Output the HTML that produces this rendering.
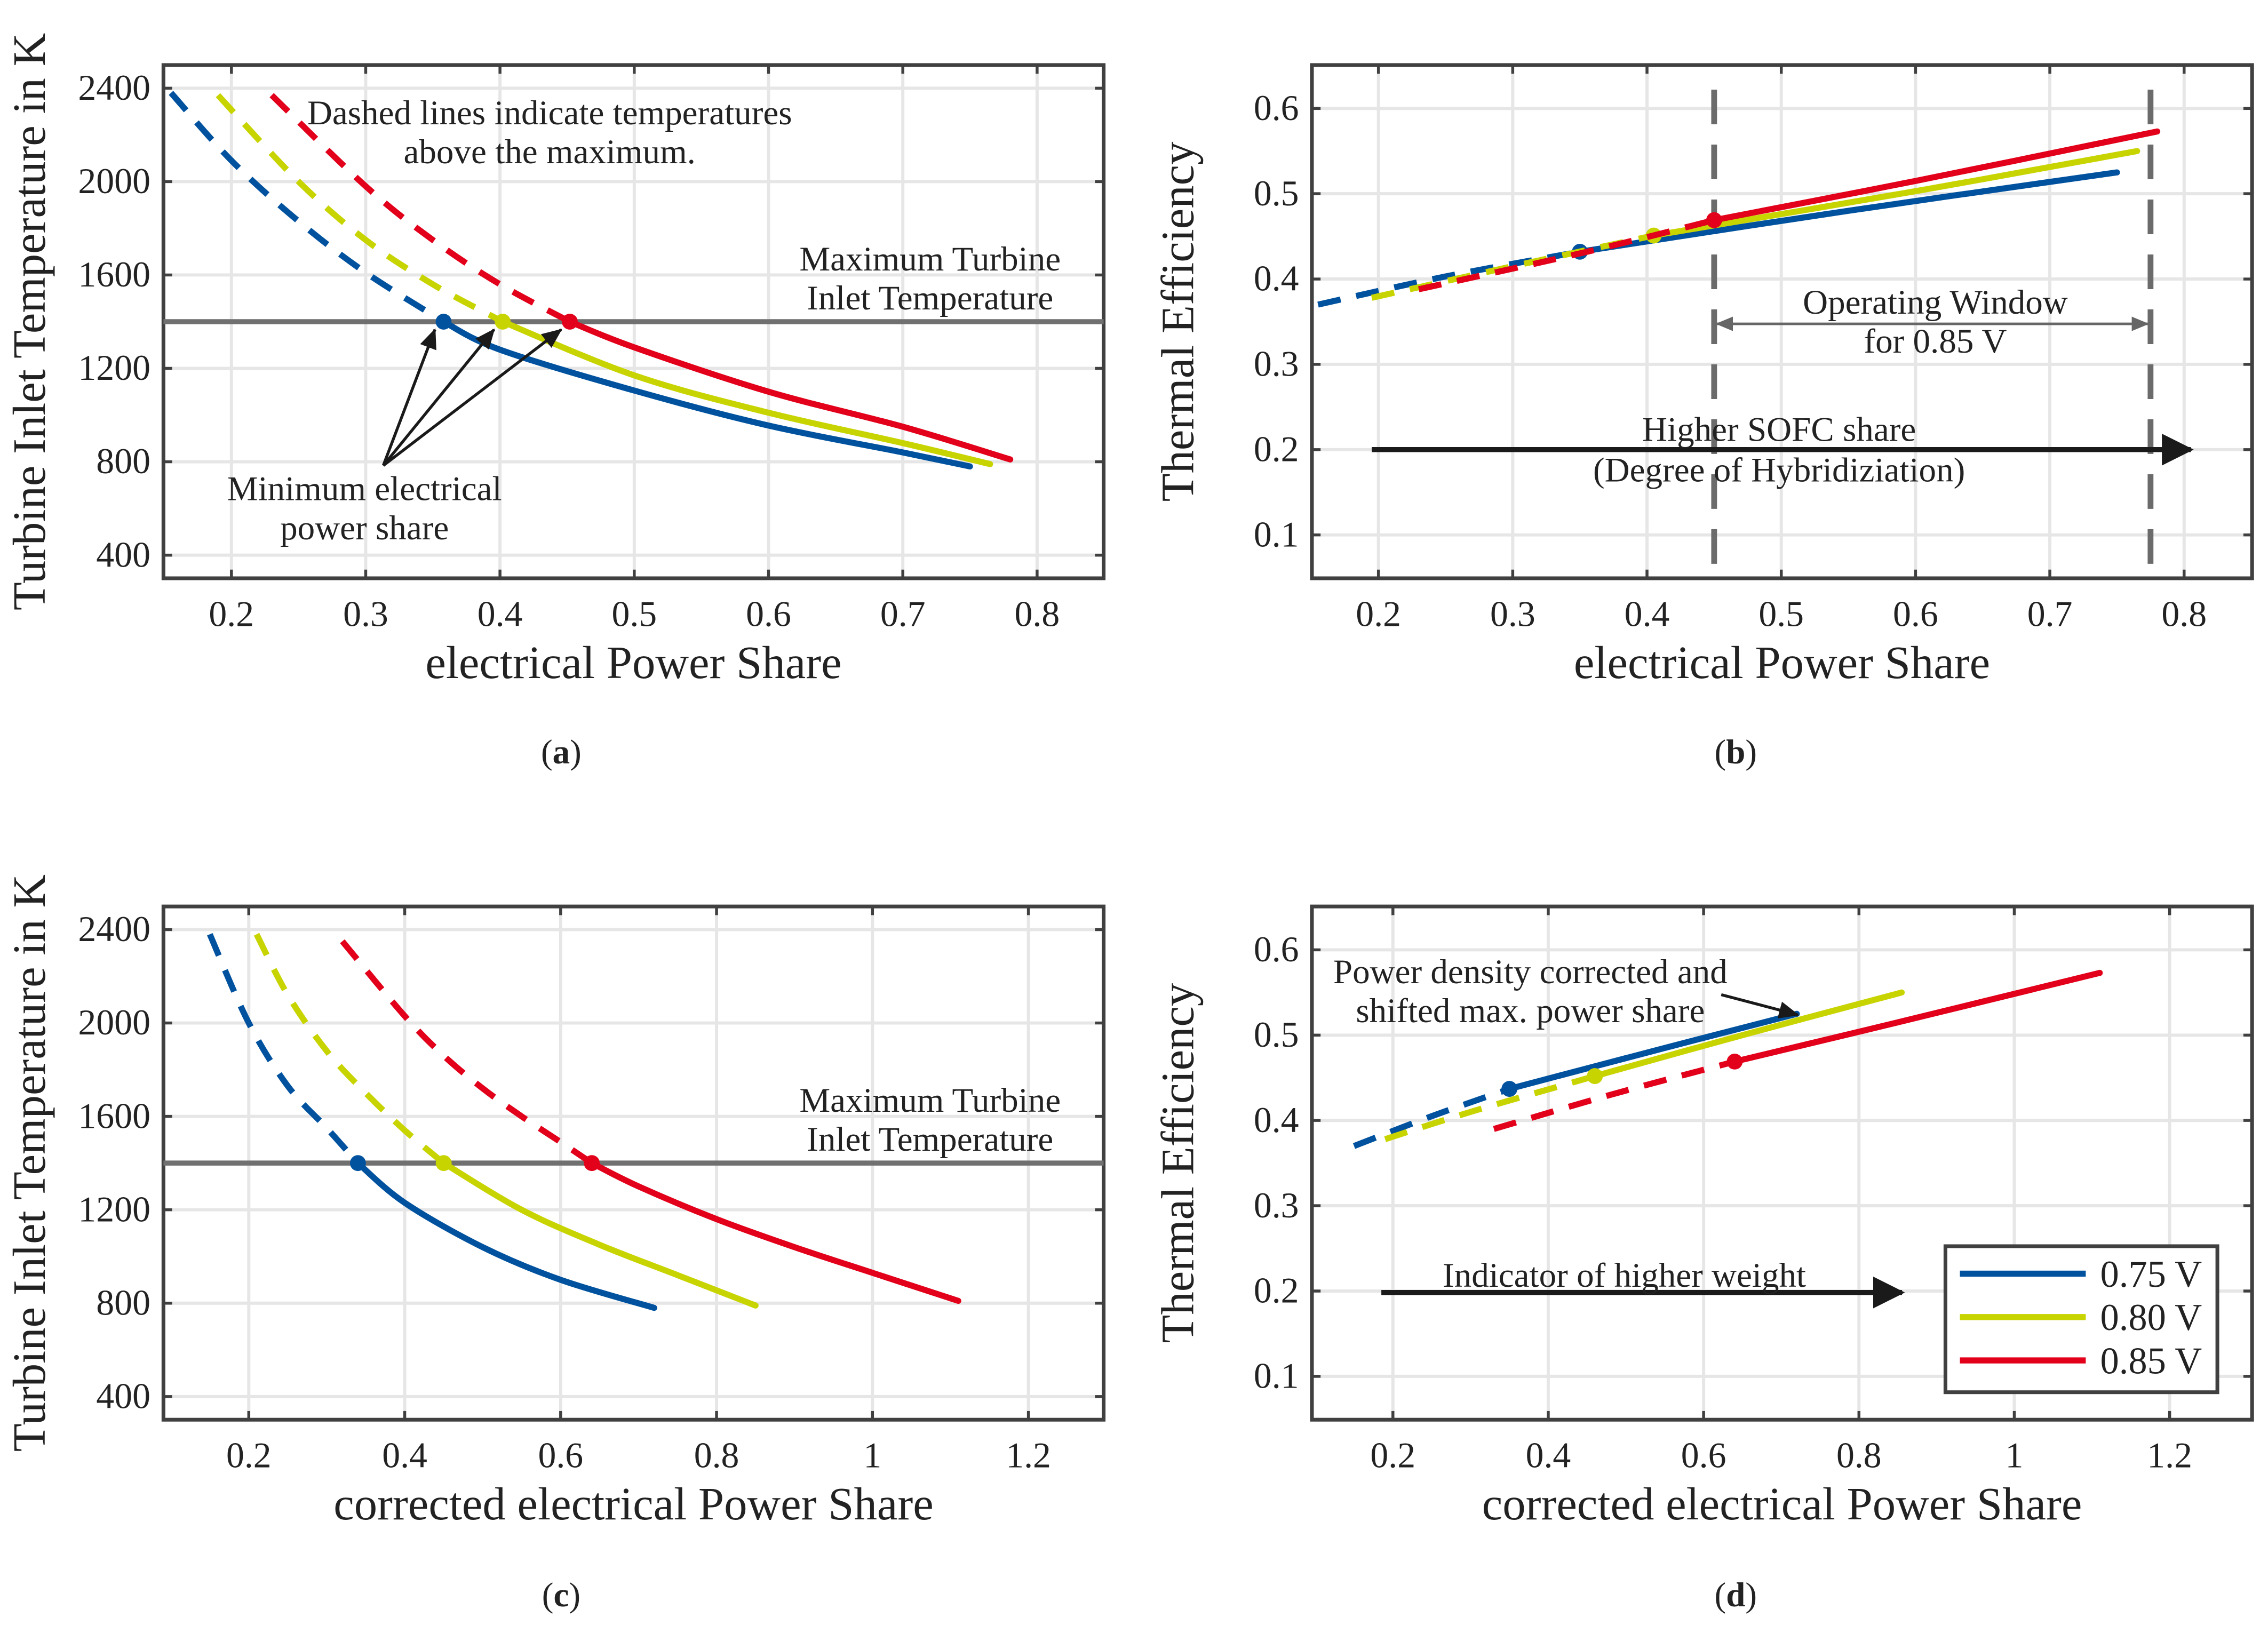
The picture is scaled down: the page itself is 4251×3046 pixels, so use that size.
<!DOCTYPE html>
<html><head><meta charset="utf-8"><style>
html,body{margin:0;padding:0;background:#fff;}
svg{display:block;}
text{font-family:"Liberation Serif",serif;fill:#222;}
</style></head><body>
<svg id="fig" width="4251" height="3046" viewBox="0 0 1568 1124" preserveAspectRatio="none" xmlns="http://www.w3.org/2000/svg">
<defs>
<marker id="ahs" markerWidth="14" markerHeight="12" refX="13" refY="6" orient="auto" markerUnits="userSpaceOnUse"><path d="M0,0 L14,6 L0,12 z" fill="#1a1a1a"/></marker>
<marker id="ahb" markerWidth="22" markerHeight="22" refX="20" refY="11" orient="auto" markerUnits="userSpaceOnUse"><path d="M0,0 L22,11 L0,22 z" fill="#1a1a1a"/></marker>
<marker id="ahg" markerWidth="12" markerHeight="10" refX="11" refY="5" orient="auto-start-reverse" markerUnits="userSpaceOnUse"><path d="M0,0 L12,5 L0,10 z" fill="#666"/></marker>
</defs>
</svg>
<script>
// ---------- data ----------
const aBlueX=[0.155,0.2,0.25,0.3,0.358,0.4,0.5,0.6,0.7,0.75];
const aBlueY=[2380,2090,1830,1610,1400,1280,1105,955,840,780];
const aYellowX=[0.19,0.25,0.3,0.35,0.402,0.5,0.6,0.7,0.765];
const aYellowY=[2370,2000,1750,1560,1400,1170,1010,880,790];
const aRedX=[0.23,0.3,0.35,0.4,0.452,0.5,0.6,0.7,0.78];
const aRedY=[2370,1980,1750,1560,1400,1290,1100,950,810];
const bBlueX=[0.155,0.25,0.35,0.55,0.75];
const bBlueY=[0.370,0.403,0.432,0.48,0.525];
const bYellowX=[0.195,0.3,0.405,0.6,0.765];
const bYellowY=[0.378,0.415,0.451,0.503,0.55];
const bRedX=[0.23,0.35,0.45,0.6,0.78];
const bRedY=[0.388,0.430,0.469,0.515,0.573];
const cBlueX=[0.15,0.2,0.25,0.3,0.34,0.4,0.5,0.6,0.72];
const cBlueY=[2380,2000,1730,1550,1400,1230,1040,900,780];
const cYellowX=[0.21,0.25,0.3,0.35,0.4,0.45,0.55,0.65,0.75,0.85];
const cYellowY=[2380,2120,1880,1700,1540,1400,1200,1050,920,790];
const cRedX=[0.32,0.4,0.45,0.5,0.55,0.6,0.64,0.7,0.8,0.9,1.0,1.11];
const cRedY=[2350,2030,1860,1720,1600,1490,1400,1300,1160,1040,930,810];
const dBlueX=[0.15,0.25,0.35,0.55,0.72];
const dBlueY=[0.37,0.405,0.437,0.485,0.525];
const dYellowX=[0.19,0.3,0.46,0.65,0.855];
const dYellowY=[0.378,0.41,0.452,0.5,0.55];
const dRedX=[0.33,0.48,0.64,0.85,1.11];
const dRedY=[0.39,0.43,0.469,0.515,0.573];
const xTicksAB=[0.2,0.3,0.4,0.5,0.6,0.7,0.8];
const xTicksCD=[0.2,0.4,0.6,0.8,1,1.2];
const yTicksT=[400,800,1200,1600,2000,2400];
const yTicksE=[0.1,0.2,0.3,0.4,0.5,0.6];
const legendLabels=["0.75 V","0.80 V","0.85 V"];
const maxTemp=1400;

const NS="http://www.w3.org/2000/svg";
const svg=document.getElementById('fig');
const COL=["#00529f","#c8d400","#e2001a"];
function mk(tag,attrs,parent,txt){const e=document.createElementNS(NS,tag);for(const k in attrs)e.setAttribute(k,attrs[k]);if(txt!==undefined)e.textContent=txt;(parent||svg).appendChild(e);return e;}

function panel(id,box,xr,yr,xt,yt,xfmt,yfmt,xlabel,ylabel){
  const g=mk('g',{});
  
  
  const [L,T,R,B]=box;
  const sx=v=>xr[2]+(v-xr[0])*(xr[3]-xr[2])/(xr[1]-xr[0]);
  const sy=v=>yr[2]+(v-yr[0])*(yr[3]-yr[2])/(yr[1]-yr[0]);
  xt.forEach(v=>{const l=mk('line',{x1:sx(v),x2:sx(v),y1:T,y2:B,stroke:'#e6e6e6','stroke-width':2.2},g);
    
    mk('line',{x1:sx(v),x2:sx(v),y1:B,y2:B-6,stroke:'#404040','stroke-width':2},g);
    mk('line',{x1:sx(v),x2:sx(v),y1:T,y2:T+6,stroke:'#404040','stroke-width':2},g);
    const t=mk('text',{x:sx(v),y:B+33,'text-anchor':'middle','font-size':25},g,xfmt(v));
    });
  yt.forEach(v=>{const l=mk('line',{x1:L,x2:R,y1:sy(v),y2:sy(v),stroke:'#e6e6e6','stroke-width':2.2},g);
    
    mk('line',{x1:L,x2:L+6,y1:sy(v),y2:sy(v),stroke:'#404040','stroke-width':2},g);
    mk('line',{x1:R,x2:R-6,y1:sy(v),y2:sy(v),stroke:'#404040','stroke-width':2},g);
    const t=mk('text',{x:L-9,y:sy(v)+8,'text-anchor':'end','font-size':25},g,yfmt(v));
    });
  const fr=mk('rect',{x:L,y:T,width:R-L,height:B-T,fill:'none',stroke:'#404040','stroke-width':2.6},g);
  
  const xl=mk('text',{x:(L+R)/2,y:B+69,'text-anchor':'middle','font-size':32},g,xlabel);
  
  const cy=(T+B)/2;
  const yl=mk('text',{x:L-82,y:cy,'text-anchor':'middle','font-size':32,transform:`rotate(-90 ${L-82} ${cy})`},g,ylabel);
  
  return {g,sx,sy,L,T,R,B};
}
function smooth(pts){
  if(pts.length<2)return '';
  let d='M'+pts[0][0]+','+pts[0][1];
  for(let i=0;i<pts.length-1;i++){
    const p0=pts[Math.max(0,i-1)],p1=pts[i],p2=pts[i+1],p3=pts[Math.min(pts.length-1,i+2)];
    const c1=[p1[0]+(p2[0]-p0[0])/6,p1[1]+(p2[1]-p0[1])/6];
    const c2=[p2[0]-(p3[0]-p1[0])/6,p2[1]-(p3[1]-p1[1])/6];
    d+=` C${c1[0]},${c1[1]} ${c2[0]},${c2[1]} ${p2[0]},${p2[1]}`;
  }
  return d;
}
function series(p,xs,ys,split,color,name){
  const pts=xs.map((x,i)=>[p.sx(x),p.sy(ys[i])]);
  const a=mk('path',{d:smooth(pts.slice(0,split+1)),fill:'none',stroke:color,'stroke-width':4.2,'stroke-dasharray':'16 11'},p.g);
  
  const b=mk('path',{d:smooth(pts.slice(split)),fill:'none',stroke:color,'stroke-width':4.2,'stroke-linecap':'round'},p.g);
  
  const c=mk('circle',{cx:pts[split][0],cy:pts[split][1],r:5.5,fill:color},p.g);
  
}
function txt(p,x,y,s,size,name,anchor){const t=mk('text',{x,y,'font-size':size||24,'text-anchor':anchor||'middle'},p.g,s);
  return t;}
function arrow(p,x1,y1,x2,y2,w,mkid,col,name){const l=mk('line',{x1,y1,x2,y2,stroke:col||'#1a1a1a','stroke-width':w,'marker-end':'url(#'+mkid+')'},p.g);
  return l;}

const f1=v=>v.toFixed(1), fi=v=>String(v), fcd=v=>(v===1?'1':v.toFixed(1));
const TY='Turbine Inlet Temperature in K', EY='Thermal Efficiency';
const FS=24;

// Panel a
const pa=panel('a',[113,45,763,400],[0.2,0.8,160,717],[400,2400,384,61],xTicksAB,yTicksT,f1,fi,'electrical Power Share',TY);
const ml=mk('line',{x1:113,x2:763,y1:pa.sy(maxTemp),y2:pa.sy(maxTemp),stroke:'#707070','stroke-width':3.5},pa.g);

series(pa,aBlueX,aBlueY,4,COL[0],'series-075v');
series(pa,aYellowX,aYellowY,4,COL[1],'series-080v');
series(pa,aRedX,aRedY,4,COL[2],'series-085v');
txt(pa,380,86,'Dashed lines indicate temperatures',FS,'annotation-dashed');
txt(pa,380,113,'above the maximum.',FS,'annotation-dashed-2');
txt(pa,643,187,'Maximum Turbine',FS,'annotation-max-temp');
txt(pa,643,214,'Inlet Temperature',FS,'annotation-max-temp-2');
txt(pa,252,346,'Minimum electrical',FS,'annotation-min-share');
txt(pa,252,373,'power share',FS,'annotation-min-share-2');
arrow(pa,265,322,pa.sx(aBlueX[4])-6,228,2,'ahs',null,'arrow-blue');
arrow(pa,265,322,pa.sx(aYellowX[4])-6,228,2,'ahs',null,'arrow-yellow');
arrow(pa,265,322,pa.sx(aRedX[4])-6,228,2,'ahs',null,'arrow-red');

// Panel b
const pb=panel('b',[907,45,1557,400],[0.2,0.8,953,1510],[0.1,0.6,370,75],xTicksAB,yTicksE,f1,f1,'electrical Power Share',EY);
[0.45,0.775].forEach(v=>{const l=mk('line',{x1:pb.sx(v),x2:pb.sx(v),y1:62,y2:400,stroke:'#6b6b6b','stroke-width':4,'stroke-dasharray':'24 14'},pb.g);
  });
series(pb,bBlueX,bBlueY,2,COL[0],'series-075v');
series(pb,bYellowX,bYellowY,2,COL[1],'series-080v');
series(pb,bRedX,bRedY,2,COL[2],'series-085v');
const ow=mk('line',{x1:pb.sx(0.45)+2,y1:pb.sy(0.3)-28,x2:pb.sx(0.775)-2,y2:pb.sy(0.3)-28,stroke:'#666','stroke-width':1.8,'marker-start':'url(#ahg)','marker-end':'url(#ahg)'},pb.g);

txt(pb,1338,217,'Operating Window',FS,'annotation-operating-window');
txt(pb,1338,244,'for 0.85 V',FS,'annotation-operating-window-2');
arrow(pb,pb.sx(0.195),pb.sy(0.2),pb.sx(0.805),pb.sy(0.2),3.5,'ahb',null,'arrow-sofc-share');
txt(pb,1230,305,'Higher SOFC share',FS,'annotation-sofc');
txt(pb,1230,333,'(Degree of Hybridiziation)',FS,'annotation-sofc-2');

// Panel c
const pc=panel('c',[113,627,763,982],[0.2,1.2,172,711],[400,2400,966,643],xTicksCD,yTicksT,fcd,fi,'corrected electrical Power Share',TY);
const ml2=mk('line',{x1:113,x2:763,y1:pc.sy(maxTemp),y2:pc.sy(maxTemp),stroke:'#707070','stroke-width':3.5},pc.g);

series(pc,cBlueX,cBlueY,4,COL[0],'series-075v');
series(pc,cYellowX,cYellowY,5,COL[1],'series-080v');
series(pc,cRedX,cRedY,6,COL[2],'series-085v');
txt(pc,643,769,'Maximum Turbine',FS,'annotation-max-temp');
txt(pc,643,796,'Inlet Temperature',FS,'annotation-max-temp-2');

// Panel d
const pd=panel('d',[907,627,1557,982],[0.2,1.2,963,1500],[0.1,0.6,952,657],xTicksCD,yTicksE,fcd,f1,'corrected electrical Power Share',EY);
series(pd,dBlueX,dBlueY,2,COL[0],'series-075v');
series(pd,dYellowX,dYellowY,2,COL[1],'series-080v');
series(pd,dRedX,dRedY,2,COL[2],'series-085v');
txt(pd,1058,680,'Power density corrected and',FS,'annotation-power-density');
txt(pd,1058,707,'shifted max. power share',FS,'annotation-power-density-2');
arrow(pd,1190,688,1243,702,2,'ahs',null,'arrow-power-density');
arrow(pd,955,894,1315,894,3.5,'ahb',null,'arrow-higher-weight');
txt(pd,1123,890,'Indicator of higher weight',FS,'annotation-higher-weight');
const lg=mk('g',{},pd.g);

mk('rect',{x:1345,y:862,width:188,height:101,fill:'#fff',stroke:'#404040','stroke-width':2.6},lg);
legendLabels.forEach((s,i)=>{const y=881+i*30;
  const l=mk('line',{x1:1355,x2:1442,y1:y,y2:y,stroke:COL[i],'stroke-width':4.2},lg);
  
  const t=mk('text',{x:1452,y:y+9,'font-size':26},lg,s);
  });

// captions
[['a',388,528],['b',1200,528],['c',388,1111],['d',1200,1111]].forEach(([c,x,y])=>{
  const t=mk('text',{x,y,'text-anchor':'middle','font-size':24});
  
  t.appendChild(document.createTextNode('('));
  mk('tspan',{'font-weight':'bold'},t,c);
  t.appendChild(document.createTextNode(')'));
});
</script>
</body></html>
